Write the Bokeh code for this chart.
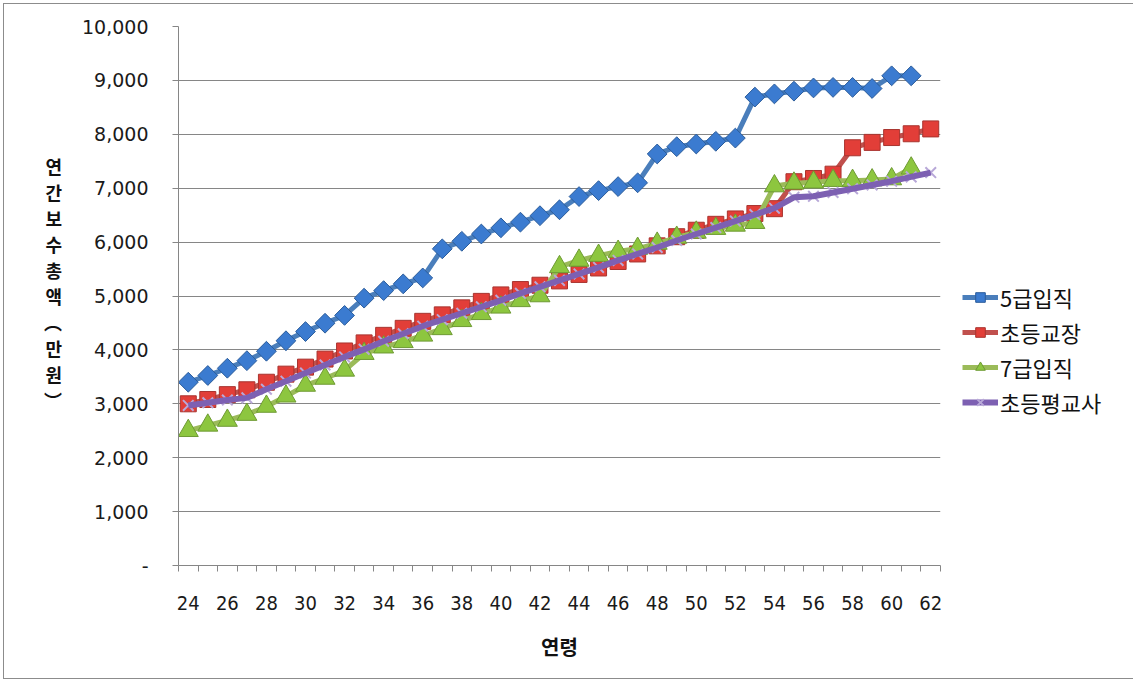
import math
from bokeh.plotting import figure
from bokeh.models import (Range1d, FixedTicker, NumeralTickFormatter, Legend,
                          LegendItem)
from bokeh.embed import file_html
from bokeh.resources import INLINE

# ---- data (연간 보수 총액, 만원) ----
ages_short = list(range(24, 62))   # 24..61
ages_long = list(range(24, 63))    # 24..62

grade5 = [3400, 3525, 3660, 3800, 3975, 4170, 4340, 4495, 4640, 4960,
          5100, 5225, 5335, 5875, 6015, 6150, 6265, 6370, 6490, 6600,
          6845, 6955, 7030, 7100, 7635, 7770, 7820, 7870, 7930, 8690,
          8750, 8800, 8860, 8870, 8870, 8850, 9085, 9085]
principal = [3000, 3080, 3170, 3260, 3400, 3550, 3680, 3830, 3980, 4130,
             4270, 4400, 4530, 4650, 4780, 4900, 5020, 5120, 5200, 5280,
             5400, 5520, 5640, 5780, 5930, 6100, 6220, 6330, 6430, 6530,
             6620, 7120, 7180, 7260, 7750, 7850, 7940, 8010, 8100]
grade7 = [2500, 2600, 2690, 2800, 2950, 3140, 3340, 3470, 3620, 3930,
          4050, 4150, 4270, 4390, 4540, 4670, 4790, 4910, 5000, 5540,
          5660, 5750, 5825, 5880, 5975, 6085, 6180, 6250, 6310, 6360,
          7040, 7090, 7110, 7140, 7140, 7150, 7170, 7370]
teacher = [2970, 3020, 3070, 3110, 3270, 3420, 3570, 3720, 3870, 4010,
           4160, 4300, 4440, 4560, 4680, 4800, 4920, 5050, 5170, 5290,
           5410, 5530, 5660, 5780, 5900, 6030, 6150, 6270, 6390, 6510,
           6630, 6830, 6850, 6920, 6990, 7060, 7130, 7210, 7290]

series_names = ["5급입직", "초등교장", "7급입직", "초등평교사"]
x_tick_labels = list(range(24, 63, 2))
y_ticks = list(range(0, 10001, 1000))
# y-axis title written top-to-bottom, one syllable per row
# (the empty last row lifts the stacked block a little)
y_title = "\n".join(["연", "간", "보", "수", "총", "액", "︵", "만", "원", "︶", ""])

KR = "Noto Sans CJK KR"
GRID = "#868686"

p = figure(frame_width=762, frame_height=539,
           min_border_left=174, min_border_top=22, min_border_bottom=113,
           min_border_right=190,
           x_range=Range1d(23.5, 62.5), y_range=Range1d(0, 10000),
           output_backend="svg", toolbar_location=None,
           background_fill_color="white", border_fill_color="white")
p.styles = {"border": "1px solid #8c8c8c", "margin-left": "3px",
            "margin-top": "3px"}
p.outline_line_color = None

# grid
p.xgrid.grid_line_color = None
p.ygrid.grid_line_color = GRID
p.ygrid.grid_line_width = 1

# x axis: labels on category centres, ticks on category borders
xa = p.xaxis[0]
xa.ticker = FixedTicker(ticks=x_tick_labels,
                        minor_ticks=[a - 0.5 for a in ages_long + [63]])
xa.axis_line_color = GRID
xa.major_tick_line_color = None
xa.major_tick_out = 0
xa.major_tick_in = 0
xa.minor_tick_line_color = GRID
xa.minor_tick_out = 6
xa.minor_tick_in = 0
xa.major_label_text_font = "DejaVu Sans Condensed, Liberation Sans Narrow, sans-serif"
xa.major_label_text_font_size = "20px"
xa.major_label_text_color = "#1a1a1a"
xa.major_label_standoff = 24
xa.axis_label = "연령"
xa.axis_label_text_font = KR
xa.axis_label_text_font_style = "bold"
xa.axis_label_text_font_size = "20px"
xa.axis_label_text_color = "#111111"
xa.axis_label_standoff = 19

# y axis
ya = p.yaxis[0]
ya.ticker = FixedTicker(ticks=y_ticks)
ya.formatter = NumeralTickFormatter(format="0,0")
ya.major_label_overrides = {0: "-"}
ya.axis_line_color = GRID
ya.major_tick_line_color = GRID
ya.major_tick_out = 6
ya.major_tick_in = 0
ya.minor_tick_line_color = None
ya.major_label_text_font = "DejaVu Sans"
ya.major_label_text_font_size = "19px"
ya.major_label_text_color = "#1a1a1a"
ya.major_label_standoff = 24
ya.axis_label = y_title
ya.axis_label_orientation = "horizontal"
ya.axis_label_text_font = KR
ya.axis_label_text_font_style = "bold"
ya.axis_label_text_font_size = "18px"
ya.axis_label_text_line_height = 1.0
ya.axis_label_text_color = "#111111"
ya.axis_label_standoff = 17

# series
r_blue_l = p.line(ages_short, grade5, line_color="#4A7EBB", line_width=5)
r_blue_m = p.scatter(ages_short, grade5, marker="square", angle=math.pi / 4,
                     size=14, fill_color="#3B7BD0", line_color="#2B5C9A",
                     line_width=1)
r_red_l = p.line(ages_long, principal, line_color="#C0504D", line_width=5)
r_red_m = p.scatter(ages_long, principal, marker="square", size=16,
                    fill_color="#E23E38", line_color="#A8342F", line_width=1)
r_green_l = p.line(ages_short, grade7, line_color="#9BBB59", line_width=5)
r_green_m = p.scatter(ages_short, grade7, marker="triangle", size=20,
                      fill_color="#8DC63F", line_color="#6E9A33", line_width=1)
r_purple_m = p.scatter(ages_long, teacher, marker="x", size=15,
                       line_color="#B8A8D8", line_width=2)
r_purple_l = p.line(ages_long, teacher, line_color="#7D60B2", line_width=6)

legend = Legend(items=[
    LegendItem(label=series_names[0], renderers=[r_blue_l, r_blue_m]),
    LegendItem(label=series_names[1], renderers=[r_red_l, r_red_m]),
    LegendItem(label=series_names[2], renderers=[r_green_l, r_green_m]),
    LegendItem(label=series_names[3], renderers=[r_purple_l, r_purple_m]),
], location=(22, 147))
legend.border_line_color = None
legend.background_fill_alpha = 0
legend.padding = 0
legend.margin = 0
legend.glyph_width = 36
legend.glyph_height = 24
legend.label_height = 24
legend.spacing = 3
legend.label_standoff = 2
legend.label_text_font = KR
legend.label_text_font_size = "22px"
legend.label_text_color = "#111111"
p.add_layout(legend, "right")

open("out.html", "w").write(file_html(p, INLINE))
